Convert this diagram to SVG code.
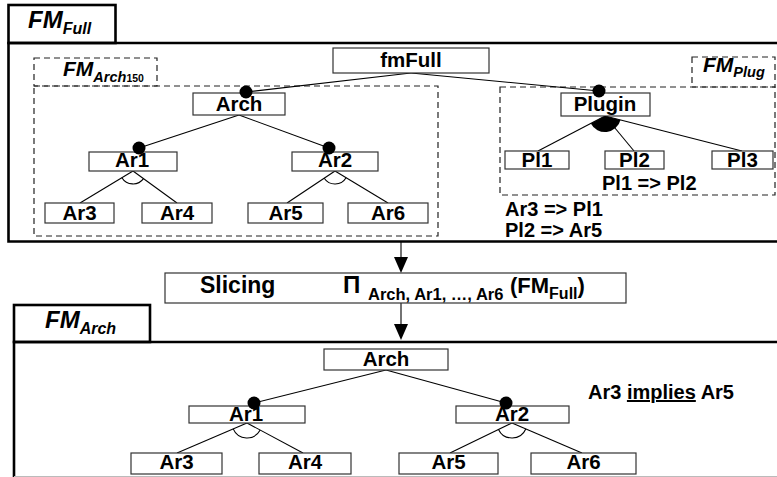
<svg xmlns="http://www.w3.org/2000/svg" width="777" height="477" viewBox="0 0 777 477">
<style>
text{font-family:"Liberation Sans",Arial,sans-serif;font-weight:bold;fill:#000}
.lbl{font-size:20.5px;text-anchor:middle}
.box{fill:#fff;stroke:#333;stroke-width:1.2}
.frame{fill:none;stroke:#000;stroke-width:2.6}
.dash{fill:none;stroke:#222;stroke-width:1.2;stroke-dasharray:6,4}
.edge{stroke:#000;stroke-width:1.1;fill:none}
.dot{fill:#000}
.head{fill:#000}
.tab{font-style:italic}
.con{font-size:20px}
</style>

<!-- Frames -->
<g id="frame-full">
<rect x="8.5" y="5" width="107" height="38" class="frame" fill="#fff"/>
<polyline points="777,43 8.5,43 8.5,241.5 777,241.5" class="frame"/>
<text x="28" y="28" class="tab" font-size="24">FM<tspan font-size="16" dy="6">Full</tspan></text>
</g>
<g id="frame-arch150">
<rect x="34" y="58" width="123" height="28" class="dash"/>
<rect x="34" y="86" width="404" height="150" class="dash"/>
<text x="63" y="76" class="tab" font-size="21">FM<tspan font-size="14.5" dy="6">Arch</tspan><tspan font-size="10.5" font-style="normal">150</tspan></text>
</g>
<g id="frame-plug">
<rect x="692" y="57" width="83" height="30" class="dash"/>
<rect x="500" y="87" width="275" height="108" class="dash"/>
<text x="703" y="72" class="tab" font-size="21">FM<tspan font-size="14.5" dy="5">Plug</tspan></text>
</g>
<g id="frame-arch">
<rect x="14" y="305" width="136" height="37" class="frame" fill="#fff"/>
<polyline points="777,342 14,342 14,480" class="frame"/>
<line x1="14" y1="476.5" x2="777" y2="476.5" stroke="#bbb" stroke-width="1"/>
<text x="45" y="328" class="tab" font-size="24">FM<tspan font-size="16" dy="6">Arch</tspan></text>
</g>

<!-- Connectors -->
<g id="connectors">
<line x1="411" y1="73" x2="246" y2="92" class="edge"/>
<line x1="411" y1="73" x2="599" y2="91" class="edge"/>
<line x1="239" y1="115" x2="139" y2="148" class="edge"/>
<line x1="239" y1="115" x2="329" y2="148" class="edge"/>
<line x1="133" y1="171" x2="80" y2="203" class="edge"/>
<line x1="133" y1="171" x2="177" y2="203" class="edge"/>
<path d="M121.9,177.7 A13,13 0 0 0 143.5,178.6" class="edge"/>
<line x1="335" y1="171" x2="287" y2="203" class="edge"/>
<line x1="335" y1="171" x2="388" y2="203" class="edge"/>
<path d="M324.2,178.2 A13,13 0 0 0 346.1,177.7" class="edge"/>
<line x1="605" y1="116" x2="538" y2="151" class="edge"/>
<line x1="605" y1="116" x2="634" y2="151" class="edge"/>
<line x1="605" y1="116" x2="742" y2="151" class="edge"/>

<line x1="401" y1="242" x2="401" y2="258" class="edge"/>
<polygon points="394,257 408,257 401,273" class="head"/>
<line x1="401" y1="303" x2="401" y2="325" class="edge"/>
<polygon points="394,324 408,324 401,340" class="head"/>

<line x1="386" y1="370" x2="254" y2="403" class="edge"/>
<line x1="386" y1="370" x2="506" y2="403" class="edge"/>
<line x1="247" y1="423" x2="177" y2="453" class="edge"/>
<line x1="247" y1="423" x2="303" y2="453" class="edge"/>
<path d="M233.2,428.9 A15,15 0 0 0 260.2,430.1" class="edge"/>
<line x1="512" y1="423" x2="450" y2="453" class="edge"/>
<line x1="512" y1="423" x2="582" y2="453" class="edge"/>
<path d="M498.5,429.4 A15,15 0 0 0 525.8,429" class="edge"/>
</g>

<!-- Top nodes -->
<g id="n-fmFull"><rect x="333" y="48" width="156" height="25" class="box"/><text x="411" y="67" class="lbl">fmFull</text></g>
<g id="n-Arch"><rect x="193" y="93" width="92" height="22" class="box"/><text x="239" y="111" class="lbl">Arch</text></g>
<g id="n-Plugin"><rect x="561" y="93" width="89" height="23" class="box"/><text x="605" y="111" class="lbl">Plugin</text></g>
<g id="n-Pl1"><rect x="505" y="151" width="64" height="18" class="box"/><text x="537" y="167" class="lbl">Pl1</text></g>
<g id="n-Pl2"><rect x="605" y="151" width="59" height="18" class="box"/><text x="634.5" y="167" class="lbl">Pl2</text></g>
<g id="n-Pl3"><rect x="712" y="151" width="61" height="18" class="box"/><text x="742.5" y="167" class="lbl">Pl3</text></g>
<g id="n-Ar1"><rect x="89" y="152" width="88" height="19" class="box"/><text x="132" y="167" class="lbl">Ar1</text></g>
<g id="n-Ar2"><rect x="292" y="152" width="86" height="19" class="box"/><text x="335" y="167" class="lbl">Ar2</text></g>
<g id="n-Ar3"><rect x="45" y="203" width="69" height="20" class="box"/><text x="79.5" y="220" class="lbl">Ar3</text></g>
<g id="n-Ar4"><rect x="142" y="203" width="70" height="20" class="box"/><text x="177" y="220" class="lbl">Ar4</text></g>
<g id="n-Ar5"><rect x="248" y="203" width="75" height="20" class="box"/><text x="285.5" y="220" class="lbl">Ar5</text></g>
<g id="n-Ar6"><rect x="348" y="203" width="80" height="20" class="box"/><text x="388" y="220" class="lbl">Ar6</text></g>

<g id="constraints-top">
<text x="602" y="190" class="con">Pl1 =&gt; Pl2</text>
<text x="505" y="216" class="con">Ar3 =&gt; Pl1</text>
<text x="505" y="237" class="con">Pl2 =&gt; Ar5</text>
</g>

<!-- Slicing -->
<g id="n-slicing">
<rect x="165" y="273" width="461" height="30" class="box"/>
<text x="200" y="293" font-size="23">Slicing</text>
<text x="343" y="293" font-size="24">Π</text>
<text x="368" y="300" font-size="16.5">Arch, Ar1, …, Ar6</text>
<text x="510" y="293" font-size="22">(FM<tspan font-size="16" dy="6">Full</tspan><tspan font-size="22" dy="-6">)</tspan></text>
</g>

<!-- Bottom nodes -->
<g id="b-Arch"><rect x="324" y="349" width="124" height="21" class="box"/><text x="386" y="366" class="lbl">Arch</text></g>
<g id="b-Ar1"><rect x="189" y="406" width="116" height="17" class="box"/><text x="246" y="421" class="lbl">Ar1</text></g>
<g id="b-Ar2"><rect x="456" y="406" width="113" height="17" class="box"/><text x="512" y="421" class="lbl">Ar2</text></g>
<g id="b-Ar3"><rect x="131" y="453" width="91" height="21" class="box"/><text x="176.5" y="469" class="lbl">Ar3</text></g>
<g id="b-Ar4"><rect x="259" y="453" width="92" height="21" class="box"/><text x="305" y="469" class="lbl">Ar4</text></g>
<g id="b-Ar5"><rect x="399" y="453" width="99" height="21" class="box"/><text x="448.5" y="469" class="lbl">Ar5</text></g>
<g id="b-Ar6"><rect x="531" y="453" width="105" height="21" class="box"/><text x="583.5" y="469" class="lbl">Ar6</text></g>

<g id="constraint-bottom">
<text x="588" y="399" class="con">Ar3 <tspan text-decoration="underline">implies</tspan> Ar5</text>
</g>

<!-- Decorations: mandatory dots and or-group, drawn over the boxes -->
<g id="decorations">
<path d="M605,116 L590.8,123.4 A16,16 0 0 0 620.5,120 Z" fill="#000"/>
<circle cx="246" cy="92" r="6.5" class="dot"/>
<circle cx="599" cy="91" r="6.5" class="dot"/>
<circle cx="139" cy="148" r="6.5" class="dot"/>
<circle cx="329" cy="148" r="6.5" class="dot"/>
<circle cx="254" cy="403" r="6.5" class="dot"/>
<circle cx="506" cy="403" r="6.5" class="dot"/>
</g>
</svg>
